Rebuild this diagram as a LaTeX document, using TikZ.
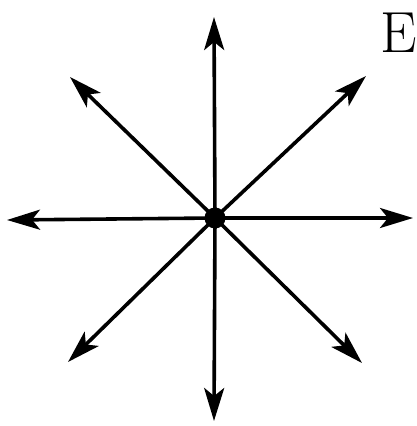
\documentclass[tikz,border=0pt]{standalone}
\usepackage{tikz}
\usetikzlibrary{arrows.meta}
\tikzset{
  arr/.style={-{Stealth[length=33pt,width=20pt,inset=8pt]},line width=3.6pt},
  dot/.style={circle,fill,inner sep=0pt,minimum size=21pt},
}
\begin{document}
\begin{tikzpicture}[x=1pt,y=-1pt]
\useasboundingbox (0,0) rectangle (417,426);
\node[dot] (c) at (215,218) {};
\coordinate (up) at (214,17);
\coordinate (dn) at (214,421);
\coordinate (lt) at (7,220);
\coordinate (rt) at (413,218);
\coordinate (ul) at (70,77);
\coordinate (ur) at (366,76);
\coordinate (dl) at (68,362);
\coordinate (dr) at (362,363);
\foreach \t in {up,dn,lt,rt,ul,ur,dl,dr} \draw[arr] (c.center)--(\t);
\node[font=\fontsize{58}{60}\selectfont,inner sep=0pt] (e) at (399,33) {E};
\end{tikzpicture}
\end{document}
